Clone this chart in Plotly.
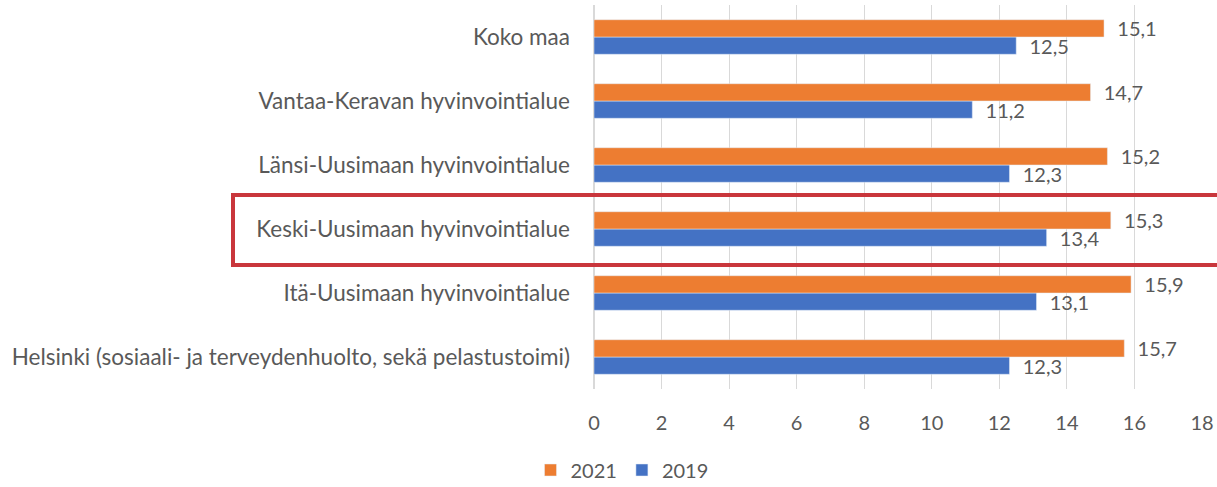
import plotly.graph_objects as go

regions = [
    "Koko maa",
    "Vantaa-Keravan hyvinvointialue",
    "Länsi-Uusimaan hyvinvointialue",
    "Keski-Uusimaan hyvinvointialue",
    "Itä-Uusimaan hyvinvointialue",
    "Helsinki (sosiaali- ja terveydenhuolto, sekä pelastustoimi)",
]
values_2021 = [15.1, 14.7, 15.2, 15.3, 15.9, 15.7]
values_2019 = [12.5, 11.2, 12.3, 13.4, 13.1, 12.3]
x_ticks = [0, 2, 4, 6, 8, 10, 12, 14, 16, 18]

W, H = 1217, 487
L, R, T, B = 594, 15, 5, 98
pw, ph = W - L - R, H - T - B

FONT = "Lato"
GREY = "#595959"
NUM = 20

fig = go.Figure()
fig.add_trace(go.Bar(
    y=regions, x=values_2019, name="2019", orientation="h",
    marker_color="#4472C4",
    texttemplate="  %{x:.1f}", textposition="outside", constraintext="none",
    textfont=dict(size=NUM, color=GREY, family=FONT), cliponaxis=False,
))
fig.add_trace(go.Bar(
    y=regions, x=values_2021, name="2021", orientation="h",
    marker_color="#ED7D31",
    texttemplate="  %{x:.1f}", textposition="outside", constraintext="none",
    textfont=dict(size=NUM, color=GREY, family=FONT), cliponaxis=False,
))

# highlight box around Keski-Uusimaa (pixel positions converted to paper)
def px(x):
    return (x - L) / pw
def py(y):
    return (H - B - y) / ph

fig.add_shape(type="rect", xref="paper", yref="paper",
              x0=px(233), x1=px(1240), y0=py(265), y1=py(195),
              line=dict(color="#C9363C", width=4), fillcolor="rgba(0,0,0,0)")

fig.update_layout(
    width=W, height=H,
    margin=dict(l=L, r=R, t=T, b=B, autoexpand=False),
    paper_bgcolor="white", plot_bgcolor="white",
    barmode="group", bargap=0.46, bargroupgap=0,
    separators=", ",
    font=dict(family=FONT, size=NUM, color=GREY),
    showlegend=True,
    legend=dict(orientation="h", x=px(622), xanchor="center", y=py(470), yanchor="middle",
                traceorder="reversed", font=dict(size=NUM, color=GREY, family=FONT),
                itemwidth=30),
)
fig.update_xaxes(range=[0, 18], tickvals=x_ticks, showgrid=True, gridcolor="#D9D9D9",
                 gridwidth=1, zeroline=True, zerolinecolor="#D9D9D9", showline=False,
                 automargin=False,
                 ticks="", ticklabelstandoff=20, tickfont=dict(size=NUM, color=GREY, family=FONT))
fig.update_yaxes(categoryorder="array", categoryarray=list(reversed(regions)),
                 showgrid=False, showline=False, ticks="", ticklabelstandoff=23,
                 automargin=False,
                 tickfont=dict(size=22.5, color=GREY, family=FONT))

fig.write_html("out.html", config={"displayModeBar": False},
               post_script="document.body.style.margin='0';document.body.style.overflow='hidden';")
